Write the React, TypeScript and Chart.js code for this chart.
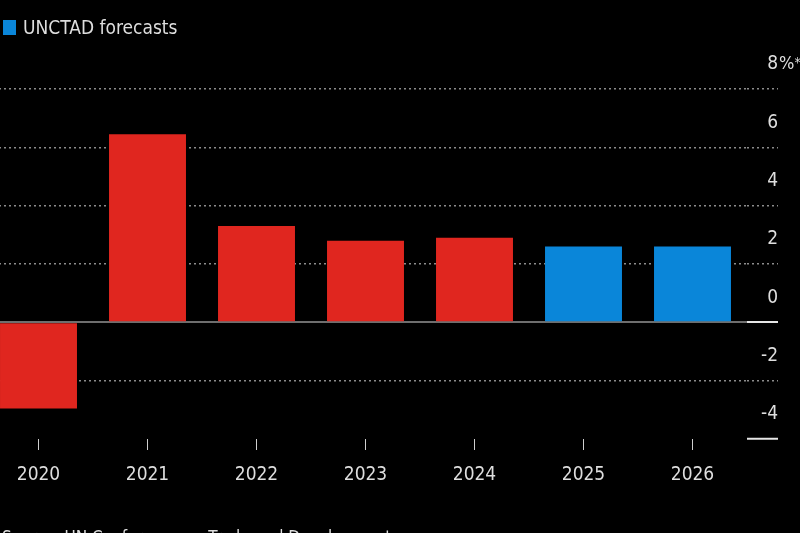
import React, { useEffect, useRef } from "react";
import { Chart, registerables } from "chart.js";

Chart.register(...registerables);

const years = ["2020", "2021", "2022", "2023", "2024", "2025", "2026"];
const growth = [-2.95, 6.45, 3.3, 2.8, 2.9, 2.6, 2.6];
const isForecast = [false, false, false, false, false, true, true];
const yTickValues = [-4, -2, 0, 2, 4, 6, 8];
const legendLabel = "UNCTAD forecasts";
const sourceText = "Source: UN Conference on Trade and Development";

const RED = "#e0261f";
const BLUE = "#0a86d9";
const TEXT = "#dedede";
const GRID = "#8c8c8c";
const FONT = "'DejaVu Sans Condensed', 'DejaVu Sans', sans-serif";

export default function App() {
  const canvasRef = useRef<HTMLCanvasElement | null>(null);

  useEffect(() => {
    const canvas = canvasRef.current;
    if (!canvas) return;

    const yLabelPlugin = {
      id: "yLabels",
      afterDraw(chart: any) {
        const y = chart.scales.y;
        const ctx = chart.ctx;
        const xRight = 794;
        ctx.save();
        ctx.fillStyle = TEXT;
        ctx.textBaseline = "middle";
        ctx.textAlign = "right";
        y.ticks.forEach((t: any, i: number) => {
          const py = y.getPixelForValue(t.value) - 24.5;
          ctx.font = `19px ${FONT}`;
          ctx.textAlign = "right";
          ctx.fillText(String(t.value), xRight, py);
          if (i === y.ticks.length - 1) {
            ctx.textAlign = "left";
            ctx.font = `18px ${FONT}`;
            ctx.fillText("%", xRight + 1, py);
            const w = ctx.measureText("%").width;
            ctx.font = `14px ${FONT}`;
            ctx.fillText("*", xRight + 1 + w, py - 1);
          }
        });
        ctx.restore();
      },
    };

    const special = (v: number) => v === 0 || v === -4;

    const chart = new Chart(canvas, {
      type: "bar",
      data: {
        labels: years,
        datasets: [
          {
            data: growth,
            backgroundColor: isForecast.map((f) => (f ? BLUE : RED)),
            barPercentage: 0.706,
            categoryPercentage: 1,
            borderWidth: 0,
          },
        ],
      },
      options: {
        responsive: false,
        animation: false,
        devicePixelRatio: 1,
        layout: { padding: { top: 89, left: 0, right: 0, bottom: 0 } },
        plugins: { legend: { display: false }, tooltip: { enabled: false } },
        scales: {
          x: {
            offset: true,
            grid: {
              offset: false,
              drawOnChartArea: false,
              drawTicks: true,
              tickLength: 11,
              tickColor: "#cfcfcf",
              tickWidth: 1,
            },
            border: { display: false },
            ticks: {
              color: TEXT,
              font: { family: FONT, size: 19 },
              padding: 14,
              maxRotation: 0,
              autoSkip: false,
            },
            afterFit: (s: any) => {
              s.height = 533 - 439;
            },
          },
          y: {
            position: "right",
            min: -4,
            max: 8,
            afterBuildTicks: (s: any) => {
              s.ticks = yTickValues.map((v) => ({ value: v }));
            },
            afterFit: (s: any) => {
              s.width = 53;
            },
            grid: {
              drawOnChartArea: true,
              drawTicks: true,
              tickLength: 31,
              color: (c: any) =>
                c.tick && c.tick.value === -4 ? "rgba(0,0,0,0)" : c.tick && c.tick.value === 0 ? "#6e6e6e" : GRID,
              lineWidth: (c: any) => (c.tick && c.tick.value === 0 ? 2 : 1.5),
              tickBorderDash: (c: any) => (c.tick && special(c.tick.value) ? [] : [2, 3]),
              tickColor: (c: any) => (c.tick && special(c.tick.value) ? "#e6e6e6" : GRID),
              tickWidth: (c: any) => (c.tick && special(c.tick.value) ? 2 : 1.5),
            } as any,
            border: {
              display: false,
              dash: (c: any) => (c.tick && special(c.tick.value) ? [] : [2, 3]),
            } as any,
            ticks: { display: false },
          },
        },
      } as any,
      plugins: [yLabelPlugin],
    });

    return () => chart.destroy();
  }, []);

  return (
    <div
      style={{
        position: "fixed",
        left: 0,
        top: 0,
        width: 800,
        height: 533,
        background: "#000",
        overflow: "hidden",
        fontFamily: FONT,
      }}
    >
      <div style={{ position: "absolute", left: -16, top: 0, width: 816, height: 533 }}>
        <canvas ref={canvasRef} width={816} height={533} style={{ width: 816, height: 533, display: "block" }} />
      </div>
      <div
        style={{
          position: "absolute",
          left: 3,
          top: 20,
          width: 13,
          height: 15,
          background: BLUE,
        }}
      />
      <div
        style={{
          position: "absolute",
          left: 23,
          top: 14,
          fontSize: 19,
          lineHeight: "26px",
          color: TEXT,
          whiteSpace: "nowrap",
        }}
      >
        {legendLabel}
      </div>
      <div
        style={{
          position: "absolute",
          left: 2,
          top: 526,
          fontSize: 17,
          lineHeight: "22px",
          color: TEXT,
          whiteSpace: "nowrap",
        }}
      >
        {sourceText}
      </div>
    </div>
  );
}
